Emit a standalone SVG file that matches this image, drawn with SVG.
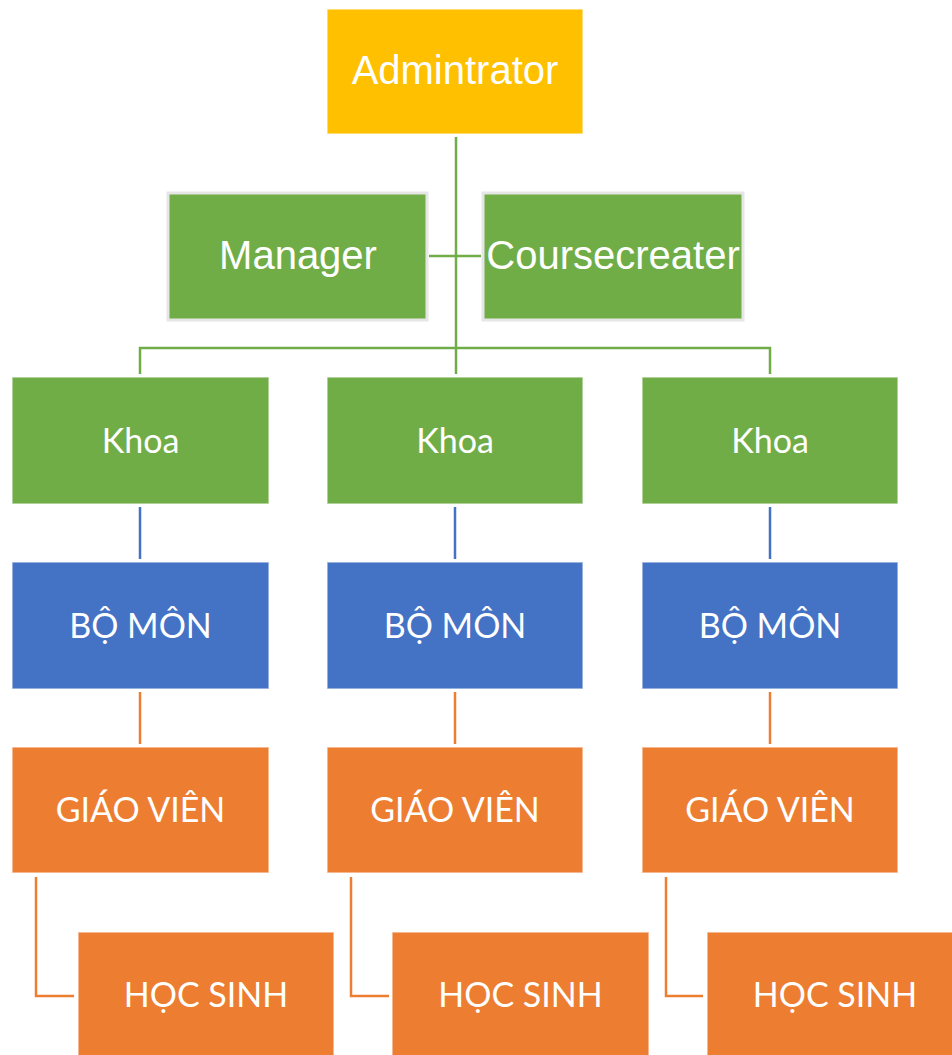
<svg xmlns="http://www.w3.org/2000/svg" width="952" height="1055" viewBox="0 0 952 1055">
<style>
.node{stroke:#ffffff;stroke-width:1.5;stroke-opacity:0.6}
.yellow{fill:#FFC000}
.green{fill:#70AD47}
.blue{fill:#4472C4}
.orange{fill:#ED7D31}
.boxed{stroke:#E6E6E6;stroke-width:3;stroke-opacity:1}
.ta{font-family:"Liberation Sans",Arial,sans-serif;font-size:40px;fill:#ffffff;text-anchor:middle}
.tc{font-family:Lato,"Noto Sans",sans-serif;font-size:34px;fill:#ffffff;text-anchor:middle}
.cg{stroke:#70AD47;stroke-width:2.5;fill:none}
.cb{stroke:#4472C4;stroke-width:2.5;fill:none}
.co{stroke:#ED7D31;stroke-width:2.5;fill:none}
</style>
<rect width="952" height="1055" fill="#ffffff"/>
<g id="connectors">
<path class="cg" d="M456 137V374"/>
<path class="cg" d="M429 256H481"/>
<path class="cg" d="M140 374V348H770V374"/>
<path class="cb" d="M140 507V559M455 507V559M770 507V559"/>
<path class="co" d="M140 692V744M455 692V744M770 692V744"/>
<path class="co" d="M36 877V996H74M351 877V996H389M666 877V996H703"/>
</g>
<g id="admin"><rect class="node yellow" x="327" y="9" width="256" height="125"/><text class="ta" x="455" y="84">Admintrator</text></g>
<g id="manager"><rect class="node green boxed" x="168" y="193" width="259" height="127"/><text class="ta" x="298" y="269">Manager</text></g>
<g id="coursecreater"><rect class="node green boxed" x="483" y="193" width="260" height="127"/><text class="ta" x="613" y="269">Coursecreater</text></g>
<g id="khoa1"><rect class="node green" x="12" y="377" width="257" height="127"/><text class="tc" x="140.5" y="453">Khoa</text></g>
<g id="khoa2"><rect class="node green" x="327" y="377" width="256" height="127"/><text class="tc" x="455" y="453">Khoa</text></g>
<g id="khoa3"><rect class="node green" x="642" y="377" width="256" height="127"/><text class="tc" x="770" y="453">Khoa</text></g>
<g id="bomon1"><rect class="node blue" x="12" y="562" width="257" height="127"/><text class="tc" x="140.5" y="638">BỘ MÔN</text></g>
<g id="bomon2"><rect class="node blue" x="327" y="562" width="256" height="127"/><text class="tc" x="455" y="638">BỘ MÔN</text></g>
<g id="bomon3"><rect class="node blue" x="642" y="562" width="256" height="127"/><text class="tc" x="770" y="638">BỘ MÔN</text></g>
<g id="giaovien1"><rect class="node orange" x="12" y="747" width="257" height="126"/><text class="tc" x="140.5" y="822">GIÁO VIÊN</text></g>
<g id="giaovien2"><rect class="node orange" x="327" y="747" width="256" height="126"/><text class="tc" x="455" y="822">GIÁO VIÊN</text></g>
<g id="giaovien3"><rect class="node orange" x="642" y="747" width="256" height="126"/><text class="tc" x="770" y="822">GIÁO VIÊN</text></g>
<g id="hocsinh1"><rect class="node orange" x="78" y="932" width="256" height="126"/><text class="tc" x="206" y="1007">HỌC SINH</text></g>
<g id="hocsinh2"><rect class="node orange" x="392" y="932" width="257" height="126"/><text class="tc" x="520.5" y="1007">HỌC SINH</text></g>
<g id="hocsinh3"><rect class="node orange" x="707" y="932" width="257" height="126"/><text class="tc" x="835" y="1007">HỌC SINH</text></g>
</svg>
